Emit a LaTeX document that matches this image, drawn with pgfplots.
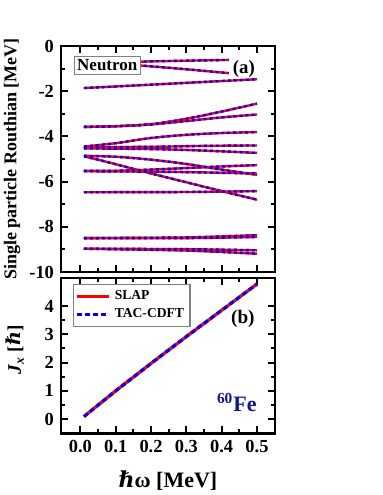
\documentclass[border=0pt]{standalone}
\usepackage{pgfplots}
\pgfplotsset{compat=1.18}
\usepackage{fontspec}
\setmainfont{Liberation Serif}
\newfontfamily\dvs{DejaVu Serif}
\newcommand{\hb}{{\dvs\bfseries\itshape ℏ}}
\definecolor{navy}{RGB}{20,20,160}
\newcommand{\lev}[1]{%
  \addplot[red,line width=1.2pt,smooth] coordinates {#1};
  \addplot[blue,line width=1.2pt,smooth,dash pattern=on 1.5pt off 1.5pt] coordinates {#1};
}
\pgfplotsset{
  myax/.style={
    scale only axis, width=107pt,
    xmin=-0.055, xmax=0.551,
    xtick={0,0.1,0.2,0.3,0.4,0.5},
    minor x tick num=1,
    minor y tick num=1,
    axis line style={line width=1.3pt},
    every tick/.style={black,line width=1pt},
    major tick length=3.5pt, minor tick length=2pt,
    tick align=inside,
    ticklabel style={font=\fontsize{9.2}{10}\selectfont\bfseries},
    /pgf/number format/assume math mode=true,
    label style={font=\fontsize{9}{10}\selectfont\bfseries},
  }
}
\begin{document}
\begin{tikzpicture}
\useasboundingbox (-30.5pt,23pt) rectangle (161pt,-224.5pt);
\begin{axis}[myax,
  at={(0,0)}, anchor=north west,
  height=113pt,
  ymin=-10, ymax=0,
  ytick={-10,-8,-6,-4,-2,0},
  xticklabels={},
  ylabel={Single particle Routhian [MeV]},
  ylabel style={at={(axis description cs:0,0.5)},anchor=center,rotate=0,yshift=24.5pt},
]
\lev{(0.01,-0.74) (0.1,-0.72) (0.2,-0.68) (0.3,-0.65) (0.42,-0.615)}
\lev{(0.01,-0.74) (0.1,-0.78) (0.2,-0.9) (0.3,-1.03) (0.42,-1.2)}
\lev{(0.01,-1.86) (0.1,-1.79) (0.2,-1.71) (0.3,-1.63) (0.4,-1.55) (0.5,-1.47)}
\lev{(0.01,-3.58) (0.1,-3.55) (0.2,-3.46) (0.3,-3.22) (0.4,-2.9) (0.5,-2.55)}
\lev{(0.01,-3.58) (0.1,-3.55) (0.2,-3.47) (0.3,-3.32) (0.4,-3.16) (0.5,-3.03)}
\lev{(0.01,-4.45) (0.1,-4.3) (0.2,-4.07) (0.3,-3.93) (0.4,-3.85) (0.5,-3.81)}
\lev{(0.01,-4.48) (0.2,-4.46) (0.35,-4.42) (0.5,-4.40)}
\lev{(0.01,-4.53) (0.2,-4.56) (0.3,-4.6) (0.4,-4.66) (0.5,-4.73)}
\lev{(0.01,-4.86) (0.1,-4.9) (0.2,-5.03) (0.3,-5.22) (0.4,-5.47) (0.5,-5.70)}
\lev{(0.01,-4.88) (0.05,-5.03) (0.1,-5.23) (0.2,-5.64) (0.3,-6.03) (0.4,-6.42) (0.5,-6.8)}
\lev{(0.01,-5.52) (0.1,-5.52) (0.2,-5.47) (0.3,-5.4) (0.4,-5.33) (0.5,-5.27)}
\lev{(0.01,-5.54) (0.2,-5.56) (0.3,-5.58) (0.4,-5.61) (0.5,-5.64)}
\lev{(0.01,-6.47) (0.3,-6.46) (0.5,-6.42)}
\lev{(0.01,-8.5) (0.3,-8.47) (0.5,-8.37)}
\lev{(0.01,-8.5) (0.3,-8.5) (0.5,-8.45)}
\lev{(0.01,-8.97) (0.3,-8.99) (0.5,-9.04)}
\lev{(0.01,-8.97) (0.3,-9.05) (0.5,-9.19)}
\node[draw=gray,fill=white,line width=0.6pt,inner sep=1.5pt,font=\fontsize{8.5}{9}\selectfont\bfseries] at (axis cs:0.076,-0.86) {Neutron};
\node[font=\fontsize{9.4}{10}\selectfont\bfseries] at (axis cs:0.463,-1.01) {(a)};
\end{axis}
\begin{axis}[myax,
  at={(0,-115.9pt)}, anchor=north west,
  height=77.7pt,
  ymin=-0.5, ymax=5,
  ytick={0,1,2,3,4},
  xticklabel style={/pgf/number format/.cd,fixed,fixed zerofill,precision=1},
  xlabel={\hb ω [MeV]},
  xlabel style={font=\fontsize{11}{12}\selectfont\bfseries,at={(axis description cs:0.5,0)},anchor=center,yshift=-23.5pt},
  ylabel={\textit{J}\textsubscript{\textit{x}} [\hb]},
  ylabel style={font=\fontsize{9.6}{10}\selectfont\bfseries,at={(axis description cs:0,0.535)},anchor=center,yshift=23pt},
  legend style={at={(0.056,0.961)},anchor=north west,draw=gray,line width=0.6pt,
    font=\fontsize{6.8}{7.5}\selectfont\bfseries,inner sep=1pt,row sep=-1pt},
  legend cell align=left,
  legend image code/.code={\draw[#1] (0pt,0pt) -- (16pt,0pt);},
]
\addplot[red,line width=1.6pt] coordinates {(0.01,0.09) (0.1,1.0) (0.2,1.97) (0.3,2.92) (0.4,3.85) (0.5,4.78)};
\addlegendentry{SLAP}
\addplot[blue,line width=1.6pt,dash pattern=on 2.4pt off 1.6pt] coordinates {(0.01,0.09) (0.1,1.0) (0.2,1.97) (0.3,2.92) (0.4,3.85) (0.5,4.78)};
\addlegendentry{TAC-CDFT}
\node[font=\fontsize{9.6}{10}\selectfont\bfseries] at (axis cs:0.46,3.53) {(b)};
\node[font=\fontsize{11}{12}\selectfont\bfseries,text=navy] at (axis cs:0.443,0.6) {\textsuperscript{60}Fe};
\end{axis}
\end{tikzpicture}
\end{document}
